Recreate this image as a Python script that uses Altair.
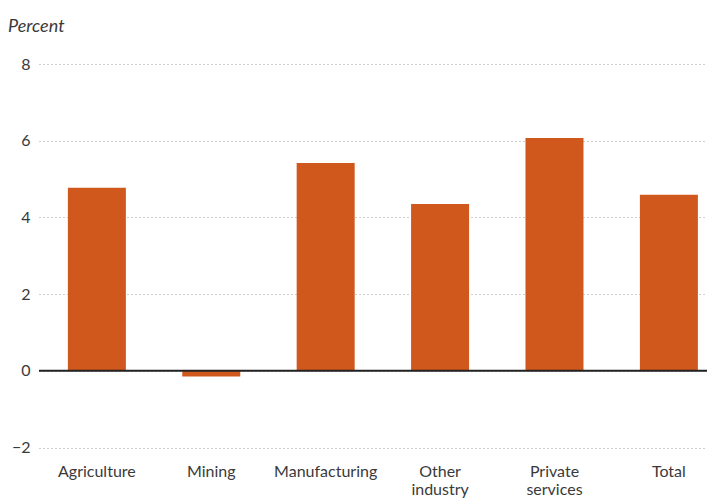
import altair as alt
import pandas as pd

categories = ["Agriculture", "Mining", "Manufacturing", "Other industry", "Private services", "Total"]
values = [4.77, -0.15, 5.42, 4.35, 6.07, 4.59]
y_ticks = [-2, 0, 2, 4, 6, 8]

df = pd.DataFrame({"category": categories, "value": values})
zero = pd.DataFrame({"y": [0]})

FONT = "Lato"
LABEL = "#3a3a3a"

bars = alt.Chart(df).mark_bar(color="#d1581c").encode(
    x=alt.X("category:N", sort=categories,
            scale=alt.Scale(paddingInner=0.493, paddingOuter=0.166, align=0.76),
            axis=alt.Axis(title=None, labelAngle=0, ticks=False, domain=False,
                          labelExpr="split(datum.label, ' ')", labelLineHeight=18,
                          labelPadding=16, labelFontSize=16, labelColor=LABEL,
                          labelFont=FONT)),
    y=alt.Y("value:Q", scale=alt.Scale(domain=[-2, 8], nice=False),
            axis=alt.Axis(title=None, values=y_ticks, ticks=False, domain=False,
                          grid=True, gridDash=[1, 3], gridColor="#a0a0a0",
                          labelPadding=9, labelFontSize=16, labelColor=LABEL,
                          labelFont=FONT,
                          labelExpr="datum.value < 0 ? '\u2212' + abs(datum.value) : datum.label")),
)

rule = alt.Chart(zero).mark_rule(color="#222222", strokeWidth=2).encode(y="y:Q")

chart = alt.layer(bars, rule).properties(
    width=668, height=383.5,
    autosize=alt.AutoSizeParams(type="none"),
    padding={"left": 31, "top": 56, "right": 0, "bottom": 50},
    title=alt.TitleParams("Percent", anchor="start", frame="group", fontStyle="italic",
                          fontWeight="normal", fontSize=18, font=FONT,
                          color=LABEL, dx=-31, offset=20),
).configure_view(stroke=None)

chart.save("out.html", embed_options={"renderer": "svg", "actions": False})
